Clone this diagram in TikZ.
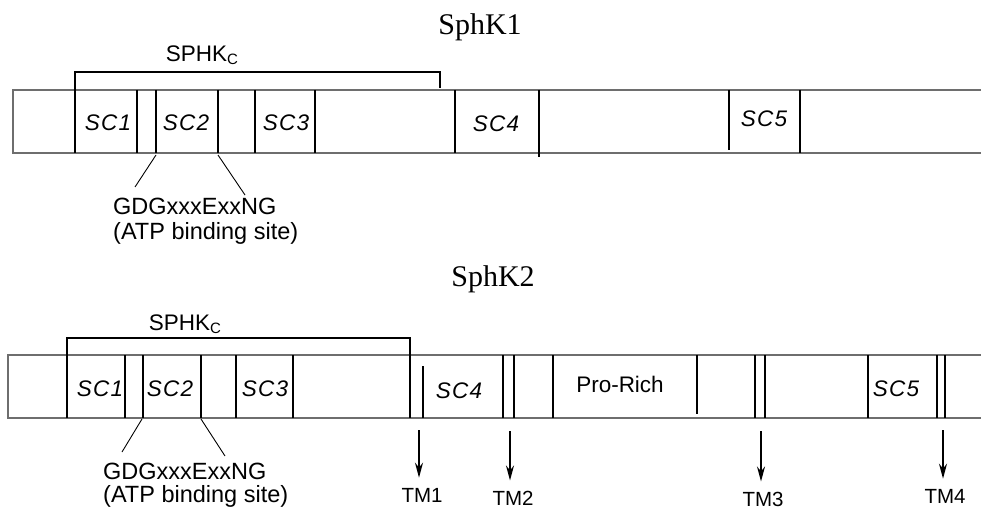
\documentclass[tikz,border=0pt]{standalone}
\usepackage{fontspec}
\setmainfont{Liberation Serif}
\setsansfont{Liberation Sans}
\usepackage{tikz}
\usetikzlibrary{arrows.meta,positioning}
\definecolor{frame}{HTML}{6E6E6E}
\definecolor{ink}{HTML}{000000}
\tikzset{
  domainbar/.style={draw=frame,line width=1.4pt},
  divider/.style={draw=ink,line width=2pt},
  bracket/.style={draw=ink,line width=2pt},
  pointer/.style={draw=ink,line width=.9pt},
  tmarrow/.style={-{Stealth[length=15pt,width=8pt]},draw=ink,line width=1.8pt,shorten >=10pt},
  sclabel/.style={font=\fontsize{22.5}{24}\selectfont\sffamily\itshape,anchor=base,inner sep=0pt},
  txt/.style={font=\fontsize{22.5}{24}\selectfont\sffamily,anchor=base,inner sep=0pt},
  motif/.style={font=\fontsize{23.5}{25}\selectfont\sffamily,anchor=base west,inner sep=0pt},
  tmlabel/.style={font=\fontsize{20.5}{22}\selectfont\sffamily,anchor=base,inner sep=0pt},
  title/.style={font=\fontsize{30}{34}\selectfont,anchor=base,inner sep=0pt}
}
\newcommand{\sphkc}{SPHK\raisebox{-3pt}{\fontsize{15}{16}\selectfont C}}
\newcommand{\spaced}[1]{\addfontfeature{LetterSpace=6}#1}

\begin{document}
\begin{tikzpicture}[x=1pt,y=-1pt]
  \useasboundingbox (0,0) rectangle (981,510);
  % SphK1
  \node[title] (t1) at (480,35) {SphK1};
  \draw[domainbar] (990,90)--(13,90)--(13,153)--(990,153);
  \draw[bracket] (75,153)--(75,72)--(440,72)--(440,88);
  \foreach \x in {137,156,218,255,315,455,800} \draw[divider] (\x,90)--(\x,153);
  \draw[divider] (539,90)--(539,157); \draw[divider] (729,90)--(729,150);
  \node[txt] (kc1) at (202,62) {\sphkc};
  \node[sclabel] (a1) at (108,131) {\spaced{SC1}};
  \node[sclabel] (a2) at (186,131) {\spaced{SC2}};
  \node[sclabel] (a3) at (286,131) {\spaced{SC3}};
  \node[sclabel] (a4) at (496,132) {\spaced{SC4}};
  \node[sclabel] (a5) at (764,127) {\spaced{SC5}};
  \node[motif] (gdg1) at (113,215) {GDGxxxExxNG};
  \node[motif] (atp1) at (113,240) {(ATP binding site)};
  \coordinate (p1a) at (156,155); \coordinate (p1b) at (135,187);
  \coordinate (p2a) at (218,155); \coordinate (p2b) at (245,195);
  \draw[pointer] (p1a)--(p1b); \draw[pointer] (p2a)--(p2b);
  % SphK2
  \node[title] (t2) at (493,287) {SphK2};
  \draw[domainbar] (990,355)--(8,355)--(8,418)--(990,418);
  \draw[bracket] (67,418)--(67,338)--(410,338)--(410,418);
  \foreach \x in {125,143,201,236,293,503,514,553,755,765,868,937,945} \draw[divider] (\x,355)--(\x,418);
  \draw[divider] (423,366)--(423,418); \draw[divider] (697,355)--(697,414);
  \node[txt] (kc2) at (185,330) {\sphkc};
  \node[sclabel] (b1) at (100,396) {\spaced{SC1}};
  \node[sclabel] (b2) at (170,396) {\spaced{SC2}};
  \node[sclabel] (b3) at (265,396) {\spaced{SC3}};
  \node[sclabel] (b4) at (459,398) {\spaced{SC4}};
  \node[txt] (pro) at (620,392) {Pro-Rich};
  \node[sclabel] (b5) at (896,396) {\spaced{SC5}};
  \node[motif] (gdg2) at (103,479) {GDGxxxExxNG};
  \node[motif] (atp2) at (103,502) {(ATP binding site)};
  \coordinate (p3a) at (142,419); \coordinate (p3b) at (122,452);
  \coordinate (p4a) at (201,419); \coordinate (p4b) at (225,456);
  \draw[pointer] (p3a)--(p3b); \draw[pointer] (p4a)--(p4b);
  % transmembrane
  \node[tmlabel] (tm1) at (422,502) {TM1};
  \node[tmlabel] (tm2) at (513,505) {TM2};
  \node[tmlabel] (tm3) at (763,506) {TM3};
  \node[tmlabel] (tm4) at (945,503) {TM4};
  \coordinate (s1) at (419,430); \coordinate (s2) at (510,431);
  \coordinate (s3) at (761,431); \coordinate (s4) at (943,430);
  \draw[tmarrow] (s1)--(s1 |- tm1.north); \draw[tmarrow] (s2)--(s2 |- tm2.north);
  \draw[tmarrow] (s3)--(s3 |- tm3.north); \draw[tmarrow] (s4)--(s4 |- tm4.north);
\end{tikzpicture}
\end{document}
